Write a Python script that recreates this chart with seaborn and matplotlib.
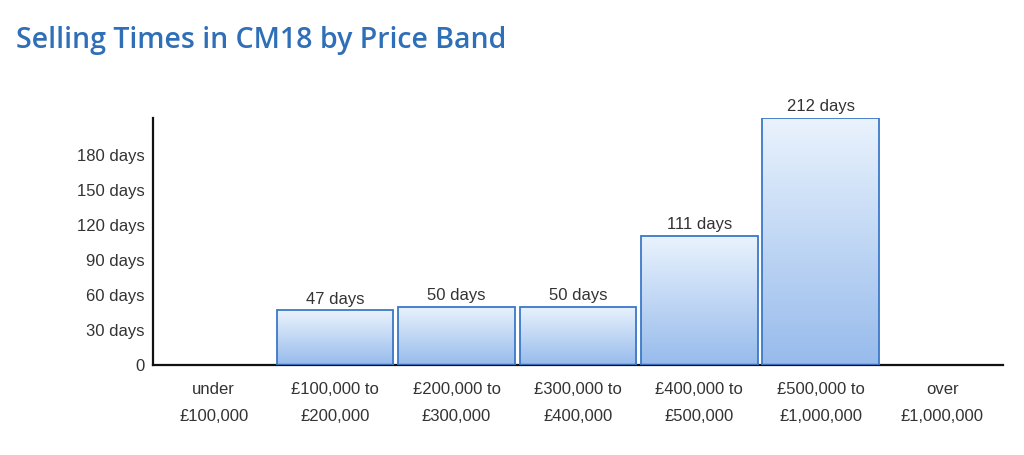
import matplotlib.pyplot as plt
import seaborn as sns
import numpy as np
import pandas as pd

bands = ['under\n£100,000', '£100,000 to\n£200,000', '£200,000 to\n£300,000',
         '£300,000 to\n£400,000', '£400,000 to\n£500,000', '£500,000 to\n£1,000,000',
         'over\n£1,000,000']
days = [0, 47, 50, 50, 111, 212, 0]
yticks = [0, 30, 60, 90, 120, 150, 180]

sns.set_style("white")
plt.rcParams['font.family'] = ['Liberation Sans', 'DejaVu Sans']

df = pd.DataFrame({'band': bands, 'days': days})

fig = plt.figure(figsize=(10.24, 4.55), dpi=100)
ax = fig.add_axes([0.1494, 0.1978, 0.8300, 0.5429])

sns.barplot(x='band', y='days', data=df, ax=ax, width=0.96,
            color='white', edgecolor='#3b78c8', linewidth=1.3)

# gradient fill inside each bar
grad = np.linspace(0, 1, 256).reshape(-1, 1)
cmap = sns.blend_palette(['#97bbec', '#eaf3fd'], as_cmap=True)
for p in ax.patches:
    h = p.get_height()
    if h <= 0:
        continue
    x0 = p.get_x()
    w = p.get_width()
    ax.imshow(grad, extent=[x0, x0 + w, 0, h], origin='lower',
              cmap=cmap, aspect='auto', zorder=p.get_zorder() - 0.1)
    p.set_facecolor('none')
    p.set_zorder(3)
ax.set_xlim(-0.5, 6.5)
ax.set_ylim(0, 212)

for i, v in enumerate(days):
    if v > 0:
        ax.text(i, v + 3, f'{v} days', ha='center', va='bottom',
                fontsize=12, color='#333333')

ax.set_yticks(yticks)
ax.set_yticklabels(['0'] + [f'{t} days' for t in yticks[1:]])
ax.tick_params(axis='y', length=0, pad=6, labelsize=12, labelcolor='#333333')
ax.tick_params(axis='x', length=0, pad=12, labelsize=12, labelcolor='#333333')
for lab in ax.get_xticklabels():
    lab.set_linespacing(2.05)

ax.set_xlabel('')
ax.set_ylabel('')
sns.despine(ax=ax)
for s in ['left', 'bottom']:
    ax.spines[s].set_color('#111111')
    ax.spines[s].set_linewidth(1.6)

fig.text(0.016, 0.912, 'Selling Times in CM18 by Price Band',
         fontsize=20.5, color='#2f6fb8', family=['Open Sans', 'DejaVu Sans'],
         fontweight='semibold', va='center')

fig.savefig('out.png', dpi=100)
